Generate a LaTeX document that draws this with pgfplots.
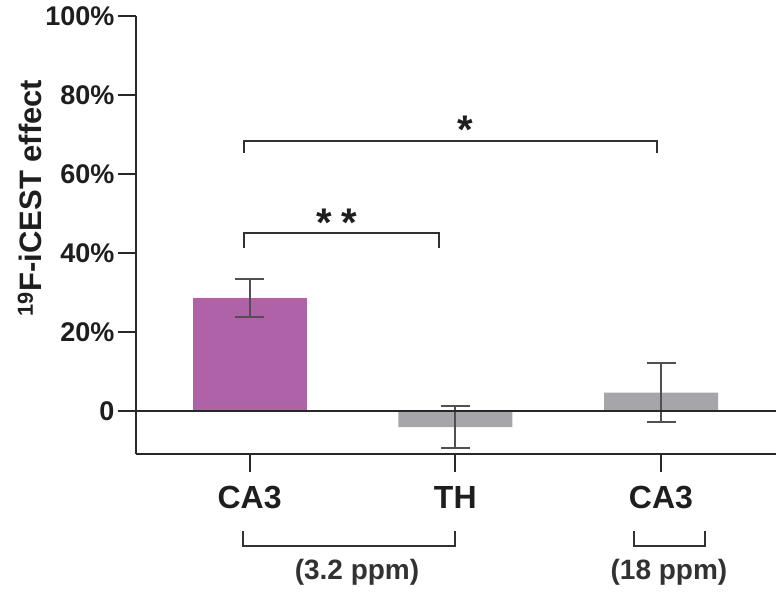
\documentclass[border=0pt]{standalone}
\usepackage{fontspec}
\setmainfont{Liberation Sans}
\usepackage{pgfplots}
\pgfplotsset{compat=1.18}
\definecolor{purp}{RGB}{175,98,168}
\definecolor{barg}{RGB}{166,165,169}
\definecolor{axcol}{RGB}{40,40,40}
\definecolor{errcol}{RGB}{80,80,80}
\definecolor{labcol}{RGB}{30,30,30}
\definecolor{brcol}{RGB}{50,50,50}
\begin{document}
\begin{tikzpicture}
\path[use as bounding box] (0pt,0pt) rectangle (780pt,592pt);
\begin{axis}[
  at={(136pt,138pt)}, anchor=south west,
  scale only axis, width=640pt, height=438pt,
  xmin=-0.552, xmax=2.559, ymin=-10.9, ymax=100,
  axis x line*=bottom, axis y line*=left,
  axis line style={draw=axcol, line width=2.1pt, -},
  xtick={0,1,2}, xticklabels={CA3,TH,CA3},
  ytick={0,20,40,60,80,100},
  yticklabels={0,20\%,40\%,60\%,80\%,100\%},
  tick align=outside, major tick length=18pt,
  tick style={draw=axcol, line width=2.1pt},
  x tick label style={font=\fontsize{32}{38}\selectfont\bfseries, text=labcol, yshift=-11pt},
  y tick label style={font=\fontsize{27}{32}\selectfont\bfseries, text=labcol},
  clip=false,
]
\addplot[ybar, bar width=114pt, bar shift=0pt, fill=purp, draw=none,
  error bars/.cd, y dir=both, y explicit,
  error bar style={draw=errcol, line width=2pt, solid},
  error mark options={draw=errcol, line width=2pt, mark size=14.5pt, rotate=90}]
  coordinates {(0,28.6) +- (0,4.8)};
\addplot[ybar, bar width=114pt, bar shift=0pt, fill=barg, draw=none,
  error bars/.cd, y dir=both, y explicit,
  error bar style={draw=errcol, line width=2pt, solid},
  error mark options={draw=errcol, line width=2pt, mark size=14.5pt, rotate=90}]
  coordinates {(1,-4.1) +- (0,5.35) (2,4.65) +- (0,7.45)};
\draw[axcol, line width=2.1pt] (axis cs:-0.552,0) -- (axis cs:2.559,0);
% significance brackets
\draw[brcol, line width=2pt] (axis cs:-0.027,65.4) -- (axis cs:-0.027,68.4) -- (axis cs:1.98,68.4) -- (axis cs:1.98,65.4);
\draw[brcol, line width=2pt] (axis cs:-0.027,41.3) -- (axis cs:-0.027,45.0) -- (axis cs:0.92,45.0) -- (axis cs:0.92,41.3);
% group brackets
\draw[brcol, line width=2pt] (axis cs:-0.032,-30.4) -- (axis cs:-0.032,-34.3) -- (axis cs:1.0,-34.3) -- (axis cs:1.0,-30.4);
\draw[brcol, line width=2pt] (axis cs:1.871,-30.4) -- (axis cs:1.871,-34.3) -- (axis cs:2.214,-34.3) -- (axis cs:2.214,-30.4);
\end{axis}
\node[rotate=90, font=\fontsize{31}{37}\selectfont\bfseries, text=labcol] at (30pt,394pt) {\textsuperscript{19}F-iCEST effect};
\node[font=\fontsize{40}{48}\selectfont\bfseries, text=labcol] at (465pt,462pt) {*};
\node[font=\fontsize{40}{48}\selectfont\bfseries, text=labcol] at (337pt,369pt) {*\hspace{9pt}*};
\node[font=\fontsize{28}{34}\selectfont\bfseries, text=brcol] at (357pt,20pt) {(3.2 ppm)};
\node[font=\fontsize{28}{34}\selectfont\bfseries, text=brcol] at (669pt,20pt) {(18 ppm)};
\end{tikzpicture}
\end{document}
